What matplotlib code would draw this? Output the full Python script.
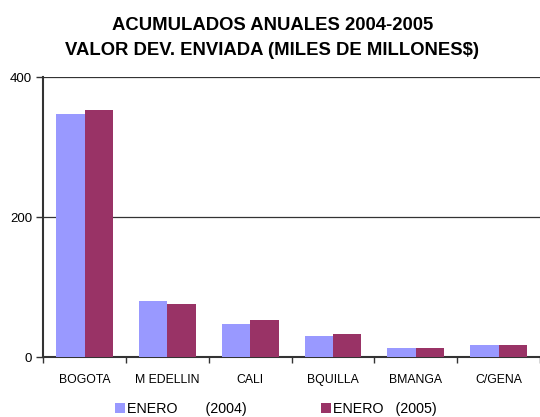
import matplotlib.pyplot as plt
import numpy as np

plt.rcParams['font.family'] = ['Liberation Sans', 'DejaVu Sans']

ciudades = ['BOGOTA', 'M EDELLIN', 'CALI', 'BQUILLA', 'BMANGA', 'C/GENA']
enero_2004 = [347, 81, 47, 30, 14, 17]
enero_2005 = [353, 76, 53, 33, 14, 17]

fig = plt.figure(figsize=(5.4, 4.17), dpi=100)
ax = fig.add_axes([0.08, 0.143, 0.92, 0.672])

x = np.arange(len(ciudades))
w = 0.343
ax.bar(x - w / 2, enero_2004, w, color='#9999FF', label='ENERO       (2004)', zorder=3)
ax.bar(x + w / 2, enero_2005, w, color='#993366', label='ENERO   (2005)', zorder=3)

ax.set_xlim(-0.5, len(ciudades) - 0.5)
ax.set_ylim(0, 400)
ax.set_yticks([0, 200, 400])
ax.yaxis.grid(True, color='#333333', linewidth=0.9, zorder=0)

# etiquetas centradas, marcas entre categorias
ax.set_xticks(x)
ax.set_xticklabels(ciudades, fontsize=8.8)
ax.set_xticks(np.arange(len(ciudades) + 1) - 0.5, minor=True)
ax.tick_params(axis='x', which='major', length=0, pad=12)
ax.tick_params(axis='x', which='minor', length=4, width=1, color='#333333', direction='out')
ax.tick_params(axis='y', labelsize=9.5, length=5, width=1, color='#333333', pad=3)

for s in ['top', 'right']:
    ax.spines[s].set_visible(False)
for s in ['left', 'bottom']:
    ax.spines[s].set_color('#333333')
    ax.spines[s].set_linewidth(1.5)

fig.text(0.504, 1 - 30 / 417, 'ACUMULADOS ANUALES 2004-2005', ha='center', va='baseline',
         fontsize=13.3, fontweight='bold')
fig.text(0.504, 1 - 55 / 417, 'VALOR DEV. ENVIADA (MILES DE MILLONES$)', ha='center', va='baseline',
         fontsize=13.3, fontweight='bold')

fig.legend(loc='center left', bbox_to_anchor=(115 / 540, 1 - 409 / 417), ncol=2,
           frameon=False, borderpad=0, borderaxespad=0,
           fontsize=10.3, handlelength=0.7, handleheight=0.7, handletextpad=0.15,
           columnspacing=5.2)

fig.savefig('out.png', dpi=100)
